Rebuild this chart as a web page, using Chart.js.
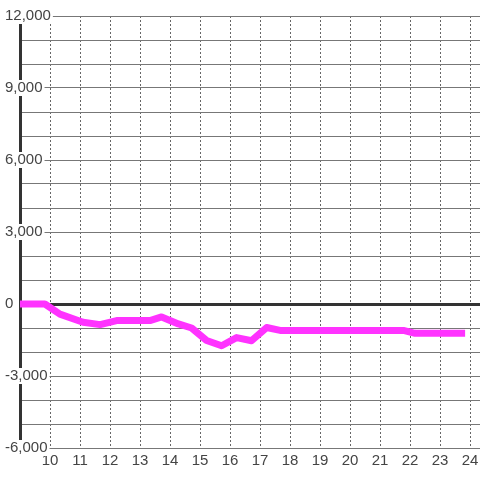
<!DOCTYPE html>
<html>
<head>
<meta charset="utf-8">
<script src="https://cdn.jsdelivr.net/npm/chart.js@4/dist/chart.umd.min.js"></script>
<style>
  html, body { margin: 0; padding: 0; background: #fff; }
  canvas { display: block; }
</style>
</head>
<body>
<canvas id="chart" width="480" height="480"></canvas>
<script>
// hour of day (x) and running balance (y)
const hours = [9, 9.83, 10.33, 11.1, 11.67, 12.22, 13.33, 13.72, 14.28, 14.72, 15.22, 15.72, 16.22, 16.72, 17.22, 17.67, 21.78, 22.17, 23.72];
const balance = [0, 0, -420, -760, -860, -690, -690, -540, -830, -1000, -1520, -1740, -1400, -1530, -980, -1100, -1100, -1220, -1220];

// axis ticks
const xTicks = [10, 11, 12, 13, 14, 15, 16, 17, 18, 19, 20, 21, 22, 23, 24];
const yLabelTicks = [-6000, -3000, 0, 3000, 6000, 9000, 12000];

const labelFont = { family: "'Liberation Sans', Arial, sans-serif", size: 15, lineHeight: '16px' };

document.addEventListener("DOMContentLoaded", () => {
  const ctx = document.getElementById('chart').getContext('2d');

  new Chart(ctx, {
    type: 'line',
    data: {
      datasets: [{
        data: hours.map((h, i) => ({ x: h, y: balance[i] })),
        borderColor: '#ff33ff',
        borderWidth: 7,
        borderCapStyle: 'square',
        borderJoinStyle: 'round',
        pointRadius: 0,
        tension: 0,
        fill: false
      }]
    },
    options: {
      responsive: false,
      animation: false,
      devicePixelRatio: 1,
      layout: { padding: { left: 5, top: 16, right: 0, bottom: 0 } },
      plugins: {
        legend: { display: false },
        tooltip: { enabled: false }
      },
      scales: {
        x: {
          type: 'linear',
          min: 9,
          max: 24.333,
          afterBuildTicks: scale => { scale.ticks = xTicks.map(v => ({ value: v })); },
          afterFit: scale => {
            scale.height = 32;
            scale.paddingLeft = 0;
            scale.paddingRight = 0;
          },
          grid: { color: '#666', lineWidth: 1, drawTicks: false },
          border: { display: false, dash: [2, 2] },
          ticks: {
            color: '#444',
            font: labelFont,
            padding: 5,
            maxRotation: 0,
            callback: v => String(v)
          }
        },
        y: {
          min: -6000,
          max: 12000,
          afterFit: scale => { scale.width = 15; },
          grid: {
            drawTicks: false,
            color: c => c.tick && c.tick.value === 0 ? '#333' : '#777',
            lineWidth: c => c.tick && c.tick.value === 0 ? 3 : 1
          },
          border: { display: true, color: '#333', width: 3 },
          ticks: {
            stepSize: 1000,
            autoSkip: false,
            color: '#444',
            font: labelFont,
            mirror: true,
            crossAlign: 'near',
            padding: -15,
            showLabelBackdrop: c => yLabelTicks.includes(c.tick.value),
            backdropColor: '#fff',
            backdropPadding: { left: 1, right: 2, top: 0, bottom: 0 },
            callback: v => yLabelTicks.includes(v) ? v.toLocaleString('en-US') : ''
          }
        }
      }
    }
  });
});
</script>
</body>
</html>
